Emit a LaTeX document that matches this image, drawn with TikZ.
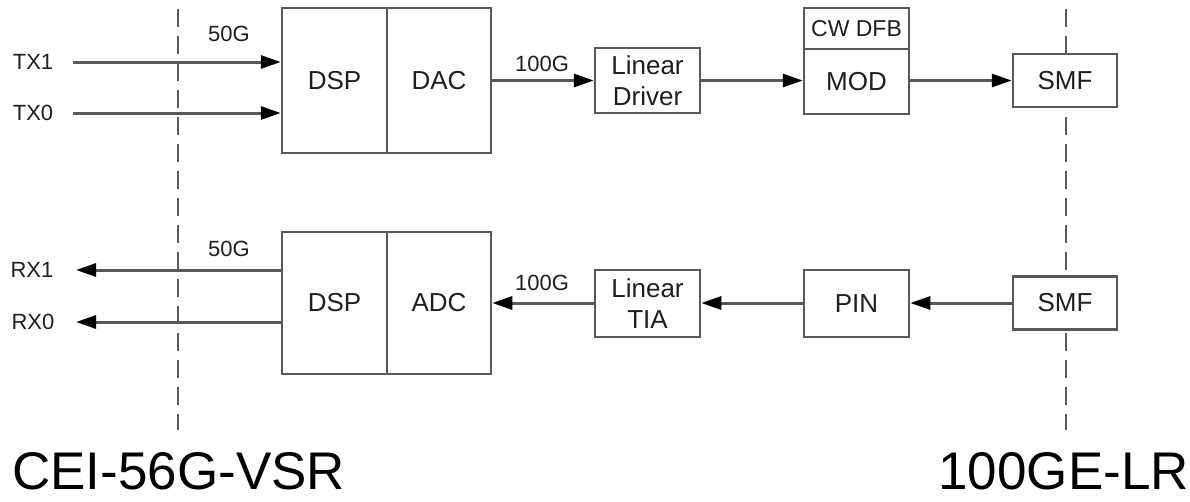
\documentclass[tikz,border=0pt]{standalone}
\usepackage{fontspec}
\setmainfont{Liberation Sans}
\usetikzlibrary{arrows.meta}
\definecolor{linec}{gray}{0.35}
\definecolor{textc}{gray}{0.12}
\begin{document}
\begin{tikzpicture}[x=1pt,y=-1pt,
  box/.style={draw=linec, line width=2.5pt, fill=white, inner sep=0pt, text=textc,
    font=\fontsize{26}{30}\selectfont, align=center},
  conn/.style={draw=linec, line width=3pt, -{Triangle[length=20pt,width=13pt,color=black]}},
  lbl/.style={inner sep=0pt, text=textc, font=\fontsize{22}{26}\selectfont},
  biglbl/.style={inner sep=0pt, text=black, font=\fontsize{53}{62}\selectfont},
  sep/.style={draw=linec, line width=2pt, dash pattern=on 18pt off 9pt}]
\useasboundingbox (0,0) rectangle (1190,501);
\fill[white] (0,0) rectangle (1190,501);
% separator lines
\coordinate (sl1) at (178,9);
\coordinate (sl2) at (178,430);
\coordinate (sr1) at (1066,9);
\coordinate (sr2) at (1066,430);
\draw[sep] (sl1) -- (sl2);
\draw[sep] (sr1) -- (sr2);
% transmit row
\node[box, minimum width=105pt, minimum height=145pt] (dsp1) at (334.5,80.5) {DSP};
\node[box, minimum width=104pt, minimum height=145pt] (dac) at (439,80.5) {DAC};
\node[box, minimum width=105pt, minimum height=65pt, font=\fontsize{26}{31}\selectfont] (drv) at (647.5,80.5) {Linear\\Driver};
\node[box, minimum width=105pt, minimum height=41pt, font=\fontsize{23}{26}\selectfont] (cw) at (856.5,28.5) {CW DFB};
\node[box, minimum width=105pt, minimum height=65pt] (mod) at (856.5,81.5) {MOD};
\node[box, minimum width=104pt, minimum height=53pt] (smf1) at (1065,80.5) {SMF};
% receive row
\node[box, minimum width=105pt, minimum height=142pt] (dsp2) at (334.5,303) {DSP};
\node[box, minimum width=104pt, minimum height=142pt] (adc) at (439,303) {ADC};
\node[box, minimum width=105pt, minimum height=67pt, font=\fontsize{26}{31}\selectfont] (tia) at (647.5,303.5) {Linear\\TIA};
\node[box, minimum width=105pt, minimum height=67pt] (pin) at (856.5,303.5) {PIN};
\node[box, minimum width=104pt, minimum height=53pt] (smf2) at (1065,303) {SMF};
% lane labels
\node[lbl] (tx1) at (33,62) {TX1};
\node[lbl] (tx0) at (33,113) {TX0};
\node[lbl] (rx1) at (32,270) {RX1};
\node[lbl] (rx0) at (33,322) {RX0};
\node[lbl] (g50a) at (229,34) {50G};
\node[lbl] (g50b) at (229,249) {50G};
\node[lbl] (g100a) at (542,64) {100G};
\node[lbl] (g100b) at (542,283) {100G};
% connectors
\coordinate (tx1s) at (73,62);
\coordinate (tx0s) at (73,113);
\coordinate (rx1e) at (76,270);
\coordinate (rx0e) at (76,322);
\draw[conn] (tx1s) -- (tx1s -| dsp1.west);
\draw[conn] (tx0s) -- (tx0s -| dsp1.west);
\draw[conn] (rx1e -| dsp2.west) -- (rx1e);
\draw[conn] (rx0e -| dsp2.west) -- (rx0e);
\draw[conn] (dac.east) -- (drv.west);
\draw[conn] (drv.east) -- (drv.east -| mod.west);
\draw[conn] (drv.east -| mod.east) -- (drv.east -| smf1.west);
\draw[conn] (smf2.west) -- (smf2.west -| pin.east);
\draw[conn] (smf2.west -| pin.west) -- (smf2.west -| tia.east);
\draw[conn] (smf2.west -| tia.west) -- (smf2.west -| adc.east);
% standard labels
\node[biglbl, anchor=base west] (cei) at (12,489) {CEI-56G-VSR};
\node[biglbl, anchor=base east] (ge) at (1189,489) {100GE-LR};
\end{tikzpicture}
\end{document}
